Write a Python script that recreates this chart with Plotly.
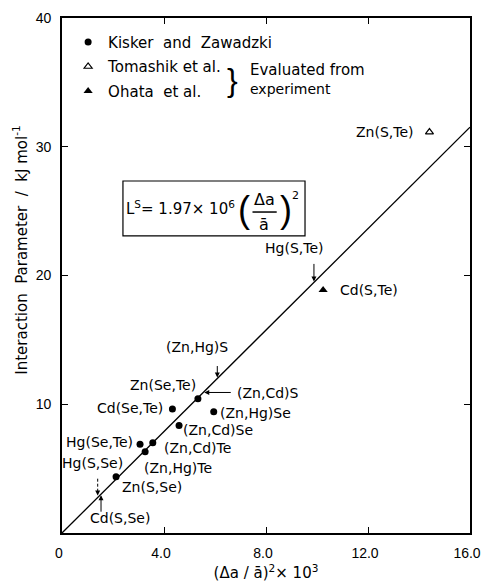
import plotly.graph_objects as go

# ---------------- data ----------------
# Kisker and Zawadzki (filled circles)
kz_names = ["Zn(Se,Te)", "Cd(Se,Te)", "(Zn,Hg)Se", "(Zn,Cd)Se",
            "Hg(Se,Te)", "(Zn,Cd)Te", "(Zn,Hg)Te", "Zn(S,Se)"]
kz_x = [5.33, 4.33, 5.95, 4.59, 3.06, 3.56, 3.26, 2.12]
kz_y = [10.43, 9.63, 9.42, 8.34, 6.89, 7.01, 6.32, 4.37]

# Tomashik et al. (open triangle)
tom_names = ["Zn(S,Te)"]
tom_x = [14.41]
tom_y = [31.14]

# Ohata et al. (filled triangle)
oh_names = ["Cd(S,Te)"]
oh_x = [10.24]
oh_y = [18.87]

# Systems predicted on the line (indicated by arrows)
pred_names = ["Hg(S,Te)", "(Zn,Hg)S", "(Zn,Cd)S", "Hg(S,Se)", "Cd(S,Se)"]
pred_x = [9.88, 6.09, 5.54, 1.40, 1.53]

# fitted relation  L^S = 1.97e6 (da/a)^2 ; x axis in units of 1e-3, y in kJ/mol
coef = 1.97
line_x = [0.0, 16.0]
line_y = [coef * v for v in line_x]

x_tickvals = [0, 4, 8, 12, 16]
x_ticktext = ["0", "4.0", "8.0", "12.0", "16.0"]
y_tickvals = [10, 20, 30, 40]
y_ticktext = ["10", "20", "30", "40"]

# ---------------- layout helpers (label placement) ----------------
label_pos = {
    "Zn(S,Te)": (12.67, 31.14), "Cd(S,Te)": (12.02, 18.87),
    "Hg(S,Te)": (9.10, 22.14), "(Zn,Hg)S": (5.31, 14.47),
    "(Zn,Cd)S": (8.06, 10.85), "Zn(Se,Te)": (3.95, 11.50),
    "Cd(Se,Te)": (2.67, 9.70), "(Zn,Hg)Se": (7.59, 9.30),
    "(Zn,Cd)Se": (6.10, 8.00), "(Zn,Cd)Te": (5.31, 6.58),
    "Hg(Se,Te)": (1.49, 7.09), "(Zn,Hg)Te": (4.55, 5.02),
    "Hg(S,Se)": (1.19, 5.46), "Zn(S,Se)": (3.53, 3.60),
    "Cd(S,Se)": (2.26, 1.14),
}
# arrow tail offsets in pixels (ax, ay) for predicted systems
arrow_off = {
    "Hg(S,Te)": (0, -20), "(Zn,Hg)S": (0, -14), "(Zn,Cd)S": (29, 0),
    "Hg(S,Se)": (0, -20), "Cd(S,Se)": (0, 19),
}

FONT = "DejaVu Sans"
fig = go.Figure()

fig.add_trace(go.Scatter(x=line_x, y=line_y, mode="lines",
                         line=dict(color="black", width=1.3),
                         showlegend=False, hoverinfo="skip"))

fig.add_trace(go.Scatter(x=kz_x, y=kz_y, mode="markers", name="Kisker&nbsp;&nbsp;and&nbsp;&nbsp;Zawadzki",
                         marker=dict(symbol="circle", size=7, color="black"),
                         legendgroup="a", text=kz_names))
fig.add_trace(go.Scatter(x=tom_x, y=tom_y, mode="markers", name="Tomashik et al.",
                         marker=dict(symbol="triangle-up-open", size=7, color="black",
                                     line=dict(width=1.2, color="black")),
                         legendgroup="b", text=tom_names))
fig.add_trace(go.Scatter(x=oh_x, y=oh_y, mode="markers", name="Ohata&nbsp; et al.",
                         marker=dict(symbol="triangle-up", size=8, color="black"),
                         legendgroup="c", text=oh_names))

ann = []
for name, (lx, ly) in label_pos.items():
    ann.append(dict(x=lx, y=ly, text=name, showarrow=False, xanchor="center", yanchor="middle",
                    font=dict(family=FONT, size=14, color="black")))

shapes = []
for name, px in zip(pred_names, pred_x):
    ax, ay = arrow_off[name]
    py = coef * px
    if name == "Hg(S,Se)":
        # dashed shaft + small head
        ann.append(dict(x=px, y=py, ax=0, ay=-5, text="", showarrow=True, arrowhead=2,
                        arrowsize=1, arrowwidth=1, arrowcolor="black", standoff=2))
        shapes.append(dict(type="line", xref="x", yref="y", x0=px, x1=px,
                           y0=py + 0.45, y1=py + 1.55,
                           line=dict(color="black", width=1, dash="3px,2px")))
    else:
        ann.append(dict(x=px, y=py, ax=ax, ay=ay, text="", showarrow=True, arrowhead=2,
                        arrowsize=1, arrowwidth=1, arrowcolor="black", standoff=1))

# Legend brace & comment
ann.append(dict(x=6.70, y=35.2, text="}", showarrow=False, xanchor="center", yanchor="middle",
                font=dict(family="Liberation Sans", size=32, color="black")))
ann.append(dict(x=7.30, y=35.95, text="Evaluated from", showarrow=False, xanchor="left",
                yanchor="middle", font=dict(family=FONT, size=15, color="black")))
ann.append(dict(x=7.30, y=34.5, text="experiment", showarrow=False, xanchor="left",
                yanchor="middle", font=dict(family=FONT, size=14, color="black")))

# Formula box
shapes.append(dict(type="rect", xref="x", yref="y", x0=2.39, x1=9.53, y0=23.07, y1=27.34,
                   line=dict(color="black", width=1.2), fillcolor="rgba(0,0,0,0)"))
ann.append(dict(x=6.85, y=25.24, text="L<sup>S</sup>= 1.97× 10<sup>6</sup>", showarrow=False,
                xanchor="right", yanchor="middle",
                font=dict(family=FONT, size=15, color="black")))
ann.append(dict(x=7.12, y=25.15, text="(", showarrow=False, xanchor="center", yanchor="middle",
                font=dict(family="Liberation Sans", size=36, color="black")))
ann.append(dict(x=8.78, y=25.15, text=")", showarrow=False, xanchor="center", yanchor="middle",
                font=dict(family="Liberation Sans", size=36, color="black")))
ann.append(dict(x=7.94, y=25.94, text="Δa", showarrow=False, xanchor="center", yanchor="middle",
                font=dict(family=FONT, size=16, color="black")))
ann.append(dict(x=7.94, y=23.98, text="ā", showarrow=False, xanchor="center", yanchor="middle",
                font=dict(family=FONT, size=16, color="black")))
ann.append(dict(x=9.16, y=26.25, text="2", showarrow=False, xanchor="center", yanchor="middle",
                font=dict(family=FONT, size=11, color="black")))
shapes.append(dict(type="line", xref="x", yref="y", x0=7.47, x1=8.42, y0=24.93, y1=24.93,
                   line=dict(color="black", width=1.5)))

# Y axis title as annotation (placed off-centre like the original)
ann.append(dict(xref="paper", yref="paper", x=-0.103, y=0.55,
                text="Interaction&nbsp; Parameter&nbsp; /&nbsp; kJ mol<sup>-1</sup>",
                textangle=-90, showarrow=False, xanchor="center", yanchor="middle",
                font=dict(family=FONT, size=15, color="black")))

fig.update_layout(
    width=482, height=587,
    margin=dict(l=62, r=12, t=18, b=54, autoexpand=False),
    paper_bgcolor="white", plot_bgcolor="white",
    font=dict(family=FONT, size=14, color="black"),
    annotations=ann, shapes=shapes,
    showlegend=True,
    legend=dict(x=0.015, y=0.985, xanchor="left", yanchor="top",
                bgcolor="rgba(0,0,0,0)", font=dict(family=FONT, size=15, color="black"),
                tracegroupgap=2, traceorder="grouped"),
    xaxis=dict(range=[0, 16], tickvals=x_tickvals, ticktext=x_ticktext, automargin=False,
               showgrid=False, zeroline=False, showline=True, linecolor="black", linewidth=1.6,
               mirror="ticks", ticks="inside", ticklen=6, tickwidth=1.2, tickcolor="black",
               ticklabelstandoff=6, ticklabeloverflow="allow", ticklabelshift=-3,
               tickfont=dict(family="Liberation Sans", size=14),
               title=dict(text="(Δa / ā)<sup>2</sup>× 10<sup>3</sup>", standoff=8,
                          font=dict(family=FONT, size=15))),
    yaxis=dict(range=[0, 40], tickvals=y_tickvals, ticktext=y_ticktext, automargin=False,
               showgrid=False, zeroline=False, showline=True, linecolor="black", linewidth=1.6,
               mirror="ticks", ticks="inside", ticklen=6, tickwidth=1.2, tickcolor="black",
               ticklabelstandoff=6, tickfont=dict(family="Liberation Sans", size=14)),
)

fig.write_html("out.html")
